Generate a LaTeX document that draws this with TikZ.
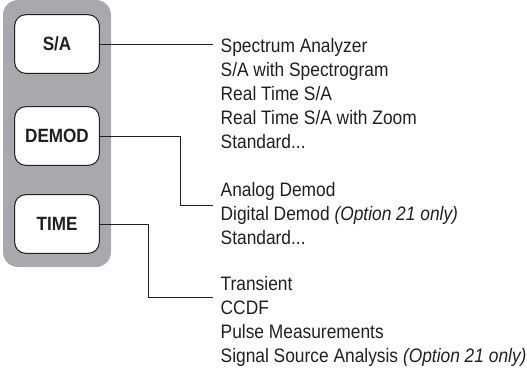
\documentclass[tikz,border=0pt]{standalone}
\usepackage{fontspec}
\setmainfont[FakeStretch=0.89]{Liberation Sans}
\definecolor{panelgray}{HTML}{A7A9AC}
\definecolor{inkc}{HTML}{231F20}
\begin{document}
\begin{tikzpicture}[x=1pt,y=-1pt,
  keybox/.style={draw=inkc,line width=1pt,fill=white,rounded corners=11pt,
    minimum width=84.6pt,minimum height=58.6pt,inner sep=0pt,
    font=\fontsize{19.2}{22}\selectfont\bfseries,text=inkc},
  item/.style={anchor=base west,inner xsep=7.5pt,inner ysep=0pt,
    font=\fontsize{19.5}{22}\selectfont,text=inkc},
  conn/.style={draw=inkc,line width=1pt}]
\useasboundingbox (0,0) rectangle (527,368);
\fill[panelgray,rounded corners=15pt] (3,0) rectangle (111,267);
\node[keybox] (sa) at (57,44) {S/A};
\node[keybox] (dm) at (57,136) {DEMOD};
\node[keybox] (tm) at (57,224) {TIME};
% S/A items
\node[item] (s1) at (213,52.6) {Spectrum Analyzer};
\node[item] (s2) at (213,76.6) {S/A with Spectrogram};
\node[item] (s3) at (213,100.6) {Real Time S/A};
\node[item] (s4) at (213,124.6) {Real Time S/A with Zoom};
\node[item] (s5) at (213,148.6) {Standard...};
% DEMOD items
\node[item] (d1) at (213,196.9) {Analog Demod};
\node[item] (d2) at (213,220.9) {Digital Demod \textit{(Option 21 only)}};
\node[item] (d3) at (213,244.9) {Standard...};
% TIME items
\node[item] (t1) at (213,290.3) {Transient};
\node[item] (t2) at (213,314.3) {CCDF};
\node[item] (t3) at (213,338.3) {Pulse Measurements};
\node[item] (t4) at (213,362.3) {Signal Source Analysis \textit{(Option 21 only)}};
\coordinate (s1c) at ([yshift=-8.6pt]s1.base west);
\coordinate (d1c) at ([yshift=-8.6pt]d1.base west);
\coordinate (t1c) at ([yshift=-7.6pt]t1.base west);
\path[conn] (sa.east) -- (sa.east -| s1c);
\path[conn] (dm.east) -- ++(81,0) |- (d1c);
\path[conn] (tm.east) -- ++(49,0) |- (t1c);
\end{tikzpicture}
\end{document}
